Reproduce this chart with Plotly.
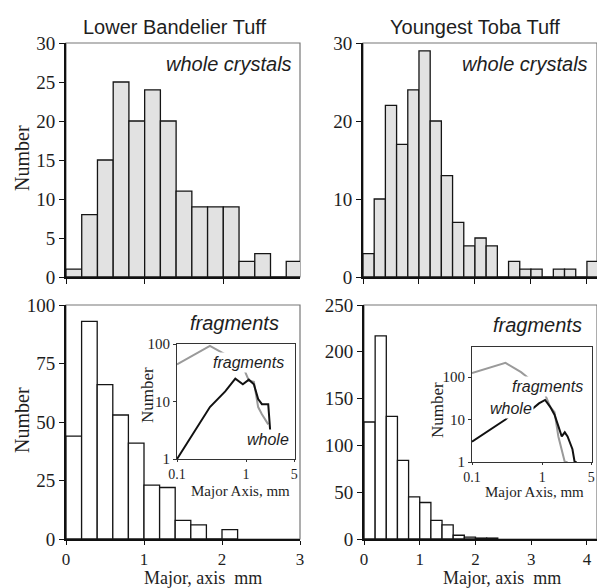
import numpy as np
import plotly.graph_objects as go

W, H = 597, 588

# ---------------- data (counts per 0.2 mm bin, starting at 0 mm) ----------------
bin_width = 0.2
lbt_whole = [1, 8, 15, 25, 20, 24, 20, 11, 9, 9, 9, 2, 3, 0, 2]
ytt_whole = [3, 10, 22, 17, 24, 29, 20, 13, 7, 4, 5, 4, 0, 2, 1, 1, 0, 1, 1, 0, 2]
lbt_frag = [44, 93, 66, 53, 41, 23, 22, 8, 6, 0, 4]
ytt_frag = [125, 217, 131, 84, 45, 39, 20, 15, 4, 2, 1, 1]

titles = ["Lower Bandelier Tuff", "Youngest Toba Tuff"]
tl_yticks = [0, 5, 10, 15, 20, 25, 30]
tr_yticks = [0, 10, 20, 30]
bl_yticks = [0, 25, 50, 75, 100]
br_yticks = [0, 50, 100, 150, 200, 250]
inset_xticks = [0.1, 1, 5]
inset_xticklabels = ["0.1", "1", "5"]
inset_yticks = [1, 10, 100]


def centers(vals):
    return [round(bin_width * (i + 0.5), 3) for i in range(len(vals))]


def nonzero(vals, upto=None):
    xs, ys = [], []
    for x, v in zip(centers(vals), vals):
        if upto is not None and x > upto:
            break
        if v > 0:
            xs.append(x)
            ys.append(v)
    return xs, ys


def xd(a, b):
    return [a / W, b / W]


def yd(top, bottom):
    return [1 - bottom / H, 1 - top / H]


fig = go.Figure()

GRAYFILL = "#e2e2e2"
EDGE = "#151515"

fig.add_trace(go.Bar(x=centers(lbt_whole), y=lbt_whole, width=bin_width,
                     marker=dict(color=GRAYFILL, line=dict(color=EDGE, width=1.3)),
                     xaxis="x", yaxis="y", showlegend=False))
fig.add_trace(go.Bar(x=centers(ytt_whole), y=ytt_whole, width=bin_width,
                     marker=dict(color=GRAYFILL, line=dict(color=EDGE, width=1.3)),
                     xaxis="x2", yaxis="y2", showlegend=False))
fig.add_trace(go.Bar(x=centers(lbt_frag), y=lbt_frag, width=bin_width,
                     marker=dict(color="white", line=dict(color=EDGE, width=1.3)),
                     xaxis="x3", yaxis="y3", showlegend=False))
fig.add_trace(go.Bar(x=centers(ytt_frag), y=ytt_frag, width=bin_width,
                     marker=dict(color="white", line=dict(color=EDGE, width=1.3)),
                     xaxis="x4", yaxis="y4", showlegend=False))

# insets (log-log)
gx, gy = nonzero(lbt_frag)
fig.add_trace(go.Scatter(x=gx, y=gy, mode="lines", line=dict(color="#9a9a9a", width=2),
                         xaxis="x5", yaxis="y5", showlegend=False))
bx, by = nonzero(lbt_whole, upto=2.3)
fig.add_trace(go.Scatter(x=bx, y=by, mode="lines", line=dict(color="#111", width=2),
                         xaxis="x5", yaxis="y5", showlegend=False))
gx, gy = nonzero(ytt_frag)
fig.add_trace(go.Scatter(x=gx, y=gy, mode="lines", line=dict(color="#9a9a9a", width=2),
                         xaxis="x6", yaxis="y6", showlegend=False))
bx, by = nonzero(ytt_whole, upto=3.1)
fig.add_trace(go.Scatter(x=bx, y=by, mode="lines", line=dict(color="#111", width=2),
                         xaxis="x6", yaxis="y6", showlegend=False))

SERIF = "Liberation Serif, Times New Roman, serif"
SANS = "Liberation Sans, Arial, sans-serif"
TXT = "#1e1e1e"

main_ax = dict(showline=True, linecolor="#111", linewidth=2, ticks="outside",
               ticklen=5, tickwidth=1.2, tickcolor="#111", showgrid=False, zeroline=False,
               automargin=False, tickfont=dict(family=SERIF, size=19, color=TXT))
bottom_x = dict(tickfont=dict(family=SERIF, size=17, color=TXT), ticklen=4)

layout = dict(
    width=W, height=H, margin=dict(l=0, r=0, t=0, b=0, autoexpand=False),
    paper_bgcolor="white", plot_bgcolor="white", showlegend=False,
    xaxis=dict(main_ax, domain=xd(66, 300), range=[0, 2.975], tickvals=[0, 1, 2],
               showticklabels=False, anchor="y"),
    yaxis=dict(main_ax, domain=yd(43, 277), range=[0, 30], tickvals=tl_yticks, anchor="x"),
    xaxis2=dict(main_ax, domain=xd(363, 597), range=[0, 4.18], tickvals=[0, 1, 2, 3, 4],
                showticklabels=False, anchor="y2"),
    yaxis2=dict(main_ax, domain=yd(43, 277), range=[0, 30], tickvals=tr_yticks, anchor="x2"),
    xaxis3=dict(main_ax, domain=xd(66, 300), range=[0, 3.0], tickvals=[0, 1, 2, 3], anchor="y3"),
    yaxis3=dict(main_ax, domain=yd(305, 539), range=[0, 100], tickvals=bl_yticks, anchor="x3"),
    xaxis4=dict(main_ax, domain=xd(364, 597), range=[0, 4.18], tickvals=[0, 1, 2, 3, 4], anchor="y4"),
    yaxis4=dict(main_ax, domain=yd(305, 539), range=[0, 250], tickvals=br_yticks, anchor="x4"),
)
layout["xaxis3"].update(bottom_x)
layout["xaxis4"].update(bottom_x)

inset_ax = dict(type="log", showline=True, linecolor="#333", linewidth=1, mirror=True,
                ticks="outside", ticklen=3, tickcolor="#333", showgrid=False, zeroline=False,
                automargin=False, tickfont=dict(family=SERIF, size=15, color=TXT))
inset_x = dict(tickfont=dict(family=SERIF, size=14, color=TXT), ticklen=2)
layout["xaxis5"] = dict(inset_ax, domain=xd(177, 295), range=[-1, 0.71], tickvals=inset_xticks,
                        ticktext=inset_xticklabels, anchor="y5")
layout["xaxis5"].update(inset_x)
layout["yaxis5"] = dict(inset_ax, domain=yd(344, 459), range=[0, 2], tickvals=inset_yticks, anchor="x5")
layout["xaxis6"] = dict(inset_ax, domain=xd(472, 592), range=[-1, 0.71], tickvals=inset_xticks,
                        ticktext=inset_xticklabels, anchor="y6")
layout["xaxis6"].update(inset_x)
layout["yaxis6"] = dict(inset_ax, domain=yd(347, 462), range=[0, 2.71], tickvals=inset_yticks, anchor="x6")

fig.update_layout(**layout)

# gray frame (top/right) for the main panels
for xa, ya in [("x", "y"), ("x2", "y2"), ("x3", "y3"), ("x4", "y4")]:
    fig.add_shape(type="rect", xref=f"{xa} domain", yref=f"{ya} domain", x0=0, x1=1, y0=0, y1=1,
                  line=dict(color="#777", width=1.2), layer="below")


def ann(text, px, py, size, family=SANS, xanchor="center", angle=0, bg=None):
    d = dict(text=text, x=px / W, y=1 - py / H, xref="paper", yref="paper", showarrow=False,
             xanchor=xanchor, yanchor="middle", textangle=angle,
             font=dict(family=family, size=size, color=TXT))
    if bg:
        d.update(bgcolor=bg, borderpad=1)
    fig.add_annotation(**d)


ann(titles[0], 175, 27, 20)
ann(titles[1], 475, 27, 20)
ann("<i>whole crystals</i>", 294, 64, 20, xanchor="right")
ann("<i>whole crystals</i>", 590, 64, 20, xanchor="right")
ann("<i>fragments</i>", 234, 323, 20)
ann("<i>fragments</i>", 537, 325, 20)
ann("<i>fragments</i>", 249, 362, 16, bg="white")
ann("<i>whole</i>", 268, 439, 16, bg="white")
ann("<i>fragments</i>", 547, 386, 16, bg="white")
ann("<i>whole</i>", 511, 408, 16, bg="white")
ann("Number", 22, 158, 20, family=SERIF, angle=-90)
ann("Number", 22, 420, 20, family=SERIF, angle=-90)
ann("Number", 147, 395, 17, family=SERIF, angle=-90)
ann("Number", 437, 410, 17, family=SERIF, angle=-90)
ann("Major Axis, mm", 240, 491, 15, family=SERIF)
ann("Major Axis, mm", 534, 492, 15, family=SERIF)
ann("Major, axis  mm", 203, 578, 18, family=SERIF)
ann("Major, axis  mm", 502, 578, 18, family=SERIF)

fig.write_html("out.html", config={"responsive": False, "displayModeBar": False},
               post_script="document.body.style.margin='0';document.body.style.overflow='hidden';")
